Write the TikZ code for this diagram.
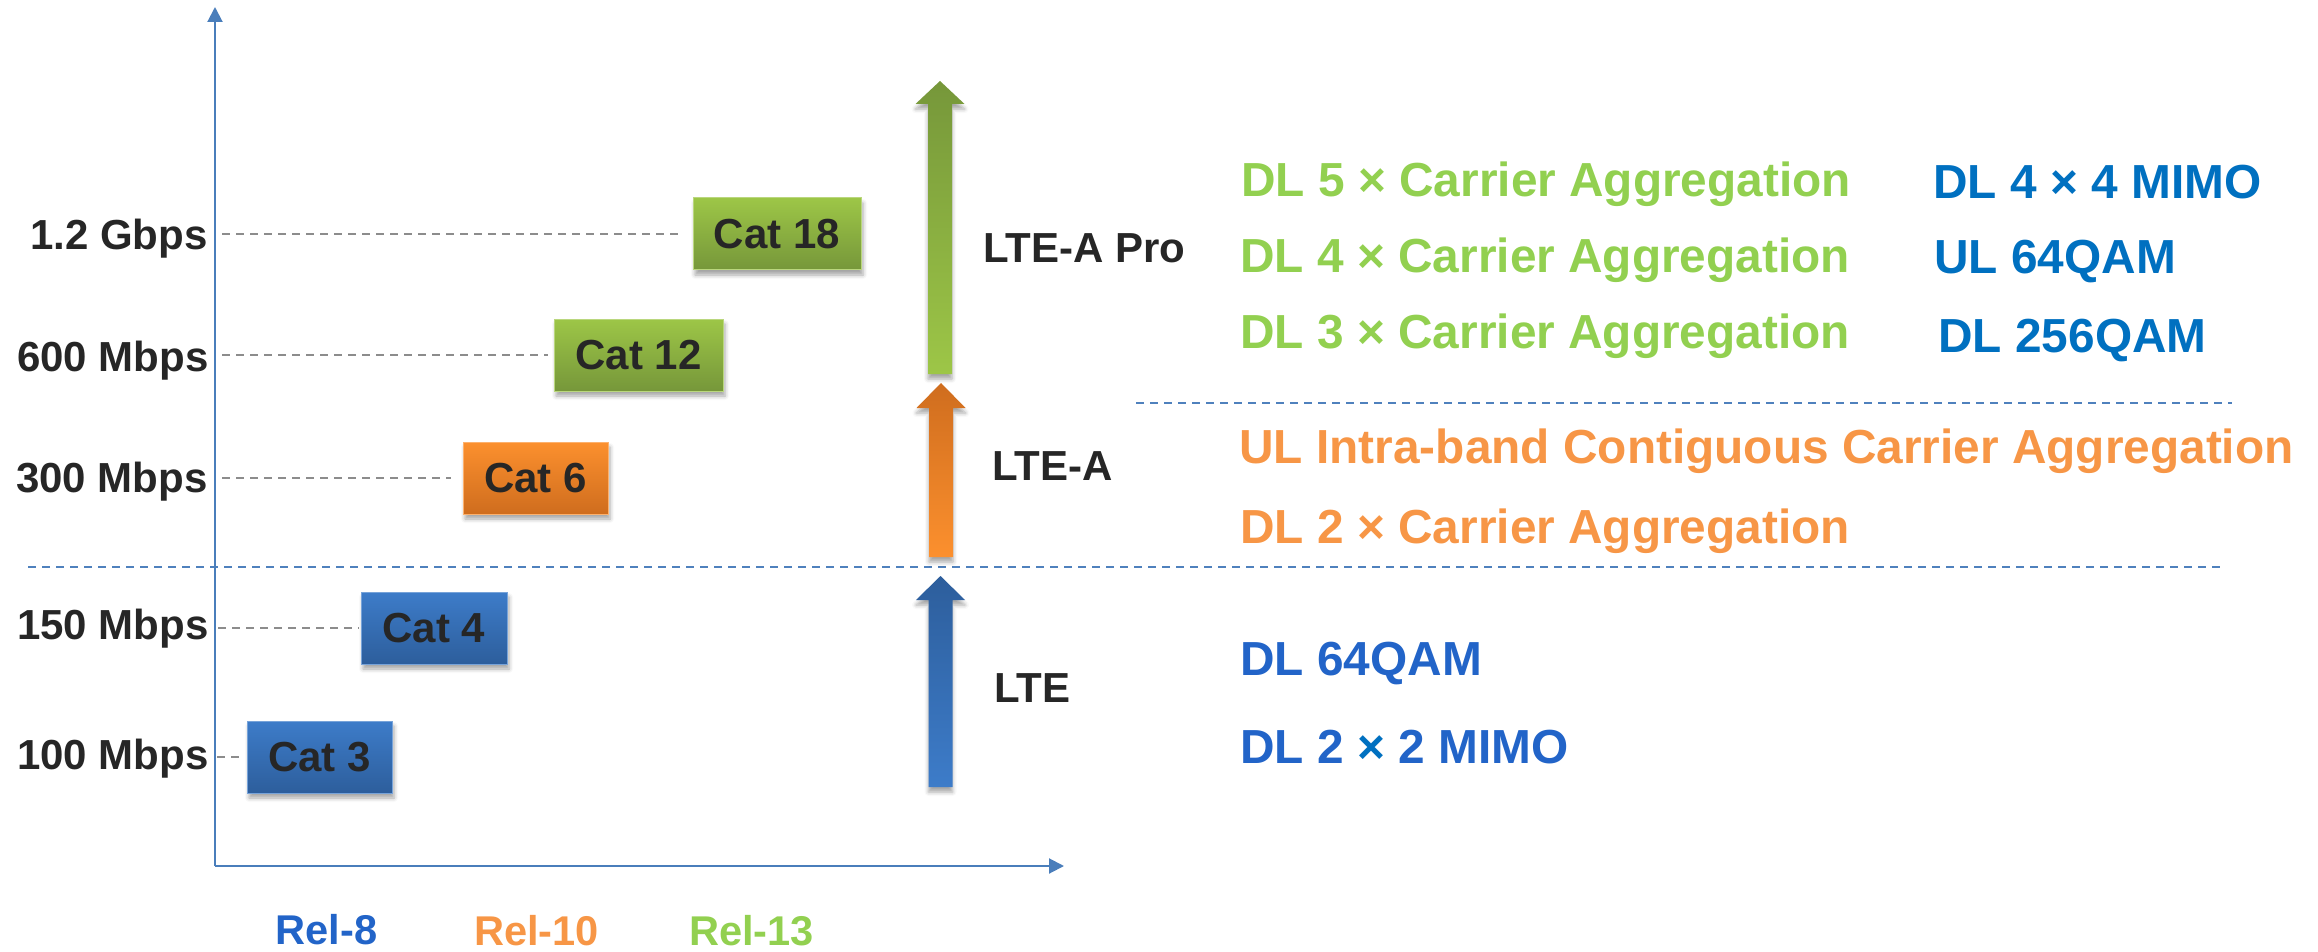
\documentclass[tikz,border=0pt]{standalone}
\usepackage{fontspec}
\setmainfont{Liberation Sans}
\usetikzlibrary{arrows.meta,shadows.blur}
\definecolor{axisblue}{HTML}{4A7EBB}
\definecolor{sepblue}{HTML}{4F81BD}
\definecolor{guidegray}{HTML}{8C8C8C}
\definecolor{txtdark}{HTML}{262626}
\definecolor{lgreen}{HTML}{92D050}
\definecolor{lorange}{HTML}{F79646}
\definecolor{mblue}{HTML}{0070C0}
\definecolor{rblue}{HTML}{2264C8}
\definecolor{gTop}{HTML}{9DC647}
\definecolor{gBot}{HTML}{76973A}
\definecolor{oTop}{HTML}{FC902E}
\definecolor{oBot}{HTML}{CF6D1E}
\definecolor{bTop}{HTML}{3D7CC9}
\definecolor{bBot}{HTML}{2D5E9C}
\newcommand{\blkarrow}[6]{%
  \shade[arrowshade, top color=#5, bottom color=#6]
    (#1-12,#4) -- (#1-12,#3) -- (#1-24.5,#3) -- (#1,#2) -- (#1+24.5,#3) -- (#1+12,#3) -- (#1+12,#4) -- cycle;}
\begin{document}
\begin{tikzpicture}[x=0.5pt,y=-0.5pt,
  axis/.style={draw=axisblue, line width=1pt, -{Triangle[width=7.5pt,length=7.5pt]}},
  guide/.style={draw=guidegray, line width=0.75pt, dash pattern=on 4pt off 3pt},
  sepline/.style={draw=sepblue, line width=1pt, dash pattern=on 4pt off 3pt},
  catbox/.style={minimum height=36pt, inner sep=0pt, text=txtdark,
    font=\fontsize{21}{25}\selectfont\bfseries,
    blur shadow={shadow xshift=1pt, shadow yshift=-2.5pt, shadow blur radius=2pt, shadow opacity=35}},
  arrowshade/.style={blur shadow={shadow xshift=0pt, shadow yshift=-2.5pt, shadow blur radius=2pt, shadow opacity=35}},
  ylab/.style={anchor=base east, inner sep=0pt, text=txtdark, font=\fontsize{21}{25}\selectfont\bfseries},
  gen/.style={anchor=base west, inner sep=0pt, text=txtdark, font=\fontsize{21}{25}\selectfont\bfseries},
  feat/.style={anchor=base west, inner sep=0pt, font=\fontsize{23.9}{29}\selectfont\bfseries},
  rel/.style={anchor=base, inner sep=0pt, font=\fontsize{20.8}{25}\selectfont\bfseries}]
\useasboundingbox (0,0) rectangle (2318,952);

% separators
\coordinate (sepLa) at (28,567);
\coordinate (sepLb) at (2221,567);
\coordinate (sepUa) at (1136,403);
\coordinate (sepUb) at (2232,403);
\draw[sepline] (sepLa) -- (sepLb);
\draw[sepline] (sepUa) -- (sepUb);

% axes
\coordinate (orig) at (215,866);
\coordinate (ytop) at (215,7);
\coordinate (xend) at (1064,866);
\draw[axis] (orig) -- (ytop);
\draw[axis] (orig) -- (xend);

% category boxes
\node[catbox, minimum width=84pt, top color=gTop, bottom color=gBot, draw=gTop!70!white, line width=0.5pt] (cat18) at (777,234) {Cat 18};
\node[catbox, minimum width=84.5pt, top color=gTop, bottom color=gBot, draw=gTop!70!white, line width=0.5pt] (cat12) at (638.5,355) {Cat 12};
\node[catbox, minimum width=72.5pt, top color=oTop, bottom color=oBot, draw=oTop!70!white, line width=0.5pt] (cat6) at (535.5,478) {Cat 6};
\node[catbox, minimum width=73pt, top color=bTop, bottom color=bBot, draw=bTop!70!white, line width=0.5pt] (cat4) at (434,628) {Cat 4};
\node[catbox, minimum width=72.5pt, top color=bTop, bottom color=bBot, draw=bTop!70!white, line width=0.5pt] (cat3) at (319.5,757) {Cat 3};

% y labels
\node[ylab] (v18) at (208,250) {1.2 Gbps};
\node[ylab] (v12) at (209,371) {600 Mbps};
\node[ylab] (v6)  at (208,492) {300 Mbps};
\node[ylab] (v4)  at (209,639) {150 Mbps};
\node[ylab] (v3)  at (209,769) {100 Mbps};

% guide lines
\coordinate (g18) at (222,234);
\coordinate (g12) at (222,355);
\coordinate (g6)  at (222,478);
\coordinate (g4)  at (218,628);
\coordinate (g3)  at (217,757);
\draw[guide] (g18) -- ([xshift=-6pt]cat18.west);
\draw[guide] (g12) -- ([xshift=-3pt]cat12.west);
\draw[guide] (g6)  -- ([xshift=-6pt]cat6.west);
\draw[guide] (g4)  -- ([xshift=-1pt]cat4.west);
\draw[guide] (g3)  -- ([xshift=-4pt]cat3.west);

% generation arrows
\blkarrow{940}{81}{104}{374}{gBot}{gTop}
\blkarrow{941}{383}{408}{557}{oBot}{oTop}
\blkarrow{940.5}{576}{600}{787}{bBot}{bTop}

\node[gen] (ltepro) at (983,263) {LTE-A Pro};
\node[gen] (ltea) at (992,480) {LTE-A};
\node[gen] (lte) at (994,702) {LTE};

% features
\node[feat, text=lgreen] (f1) at (1241,197) {DL 5 × Carrier Aggregation};
\node[feat, text=lgreen] (f2) at (1240,273) {DL 4 × Carrier Aggregation};
\node[feat, text=lgreen] (f3) at (1240,348) {DL 3 × Carrier Aggregation};
\node[feat, text=mblue] (m1) at (1933,199) {DL 4 × 4 MIMO};
\node[feat, text=mblue] (m2) at (1934,274) {UL 64QAM};
\node[feat, text=mblue] (m3) at (1938,352) {DL 256QAM};
\node[feat, text=lorange] (o1) at (1239,463) {UL Intra-band Contiguous Carrier Aggregation};
\node[feat, text=lorange] (o2) at (1240,543) {DL 2 × Carrier Aggregation};
\node[feat, text=rblue] (b1) at (1240,675) {DL 64QAM};
\node[feat, text=rblue] (b2) at (1240,763) {DL 2 \textcolor{mblue}{×} 2 MIMO};

% releases
\node[rel, text=rblue] (r8) at (326.5,944) {Rel-8};
\node[rel, text=lorange] (r10) at (536.5,945) {Rel-10};
\node[rel, text=lgreen] (r13) at (751.5,945) {Rel-13};
\end{tikzpicture}
\end{document}
